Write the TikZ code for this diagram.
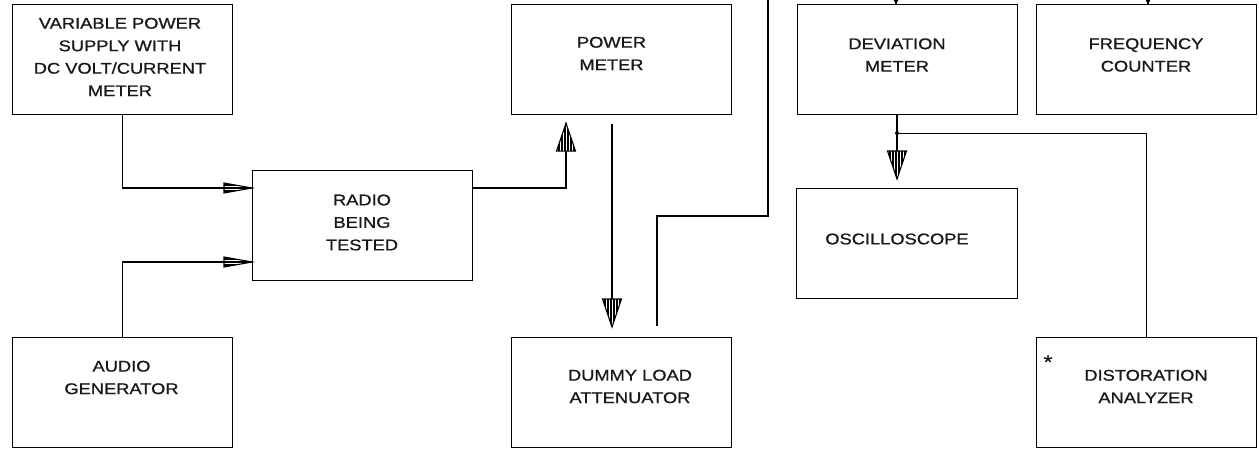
\documentclass[tikz,border=0pt]{standalone}
\usepackage{fontspec}
\setmainfont{Liberation Sans}
\newfontfamily\lblfont[FakeStretch=1.18,FakeBold=1]{Liberation Sans}
\usetikzlibrary{calc}
\tikzset{
  box/.style={draw, line width=1.1pt, minimum width=220pt, minimum height=110pt, inner sep=0pt, anchor=north west},
  lbl/.style={align=center, inner sep=0pt, font=\lblfont\fontsize{15.5}{22.5}\selectfont, text=black!90},
  conn/.style={line width=1.1pt},
  bigarrow/.pic={
    \path[fill=white] (0,0) -- (-28,-9.5) -- (-28,9.5) -- cycle;
    \begin{scope}
      \clip (0,0) -- (-28,-9.5) -- (-28,9.5) -- cycle;
      \foreach \s in {-7.5,-4.5,-1.5,1.5,4.5,7.5} \draw[line width=2pt] (-30,\s) -- (2,\s);
    \end{scope}
    \draw[line width=1.1pt, line join=miter] (0,0) -- (-28,-9.5) -- (-28,9.5) -- cycle;
  },
  smallarrow/.pic={
    \path[fill=white] (0,0) -- (-28,-5) -- (-28,5) -- cycle;
    \begin{scope}
      \clip (0,0) -- (-28,-5) -- (-28,5) -- cycle;
      \foreach \s in {-3,0,3} \draw[line width=2pt] (-30,\s) -- (2,\s);
    \end{scope}
    \draw[line width=1.1pt, line join=miter] (0,0) -- (-28,-5) -- (-28,5) -- cycle;
  },
  tinyarrow/.pic={
    \fill (0,0) -- (-5,-3) -- (-5,3) -- cycle;
  }
}
\begin{document}
\begin{tikzpicture}[x=1pt,y=-1pt]
\useasboundingbox (0,0) rectangle (1259,448);
\coordinate (top) at (0,0);

% boxes
\node[box] (ps) at (12,4) {};
\node[box] (pm) at (511,4) {};
\node[box] (dm) at (797,4) {};
\node[box] (fc) at (1036,4) {};
\node[box] (radio) at (252,170) {};
\node[box, minimum width=221pt] (osc) at (796,188) {};
\node[box] (ag) at (12,337) {};
\node[box] (dl) at (511,337) {};
\node[box] (da) at (1036,337) {};

% labels
\node[lbl] (psT) at (120,57) {VARIABLE POWER\\SUPPLY WITH\\DC VOLT/CURRENT\\METER};
\node[lbl] (pmT) at (611.5,53.5) {POWER\\METER};
\node[lbl] (dmT) at (897,55) {DEVIATION\\METER};
\node[lbl] (fcT) at (1146,55) {FREQUENCY\\COUNTER};
\node[lbl] (radioT) at (362,222.5) {RADIO\\BEING\\TESTED};
\node[lbl] (oscT) at (897,239) {OSCILLOSCOPE};
\node[lbl] (agT) at (121.5,377.5) {AUDIO\\GENERATOR};
\node[lbl] (dlT) at (630,386.5) {DUMMY LOAD\\ATTENUATOR};
\node[lbl] (daT) at (1146,386.5) {DISTORATION\\ANALYZER};
\node[lbl, font=\lblfont\fontsize{19}{20}\selectfont] (ast) at (1048,362) {*};

% coordinates
\coordinate (t1) at ($(radio.north west)+(0,18)$);
\coordinate (t2) at ($(radio.north west)+(0,92)$);
\coordinate (t3) at ($(pm.south west)+(55,8)$);
\coordinate (t4) at ($(dl.north west)+(101,-10)$);
\coordinate (s4) at ($(pm.south west)+(101,9)$);
\coordinate (d1) at ($(dl.north west)+(146,-11)$);
\coordinate (d2) at (768,216);
\coordinate (dot) at ($(dm.south west)+(100,18)$);
\coordinate (t5) at ($(osc.north west)+(101,-9)$);
\coordinate (dmtop) at ($(dm.north west)+(99,0)$);
\coordinate (fctop) at ($(fc.north west)+(112,0)$);

% connectors
\draw[conn] (ps.south) |- (t1);
\draw[conn] (ag.north) |- (t2);
\draw[conn] (radio.east |- t1) -| (t3);
\draw[conn] (s4) -- (t4);
\draw[conn] (d1) |- (d2) -- (d2 |- top);
\draw[conn] (dm.south west -| dot) -- (t5);
\draw[conn] (dot) -| (da.north);
\fill (dot) circle (2pt);
\draw[conn] (dmtop |- top) -- (dmtop);
\draw[conn] (fctop |- top) -- (fctop);

% arrowheads
\pic at (t1) {smallarrow};
\pic at (t2) {smallarrow};
\pic[rotate=90] at (t3) {bigarrow};
\pic[rotate=-90] at (t4) {bigarrow};
\pic[rotate=-90] at (t5) {bigarrow};
\pic[rotate=-90] at (dmtop) {tinyarrow};
\pic[rotate=-90] at (fctop) {tinyarrow};
\end{tikzpicture}
\end{document}
